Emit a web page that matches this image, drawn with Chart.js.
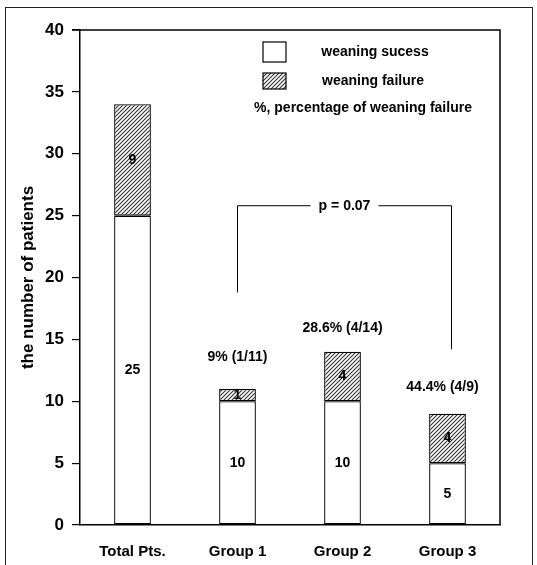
<!DOCTYPE html>
<html>
<head>
    <title>Weaning outcome</title>
    <script src="https://cdn.jsdelivr.net/npm/chart.js"></script>
    <style>
body {
    margin: 0;
    background: #fff;
}

.wrap {
    position: relative;
    width: 537px;
    height: 565px;
    overflow: hidden;
}

.frame {
    position: absolute;
    left: 5px;
    top: 7px;
    width: 526px;
    height: 600px;
    border: 1.5px solid #222;
}

canvas {
    position: absolute;
    left: 0;
    top: 0;
}
    </style>
</head>
<body>
  <div class="wrap">
      <div class="frame"></div>
      <canvas id="myChart" width="537" height="565"></canvas>
  </div>
    <script>
        // Data
        const categories = ['Total Pts.', 'Group 1', 'Group 2', 'Group 3'];
        const successCounts = [25, 10, 10, 5];
        const failureCounts = [9, 1, 4, 4];
        const pctLabels = ['', '9% (1/11)', '28.6% (4/14)', '44.4% (4/9)'];
        const pctLabelY = [null, 13.6, 15.9, 11.1];
        const yTicks = [0, 5, 10, 15, 20, 25, 30, 35, 40];

        // p-value bracket between Group 1 and Group 3 (data units)
        const bracketText = 'p = 0.07';
        const bracketFrom = 1, bracketTo = 3;
        const bracketLeftY = 18.8, bracketTopY = 25.8, bracketRightY = 14.2;

        const FONT = '"Liberation Sans", Arial, sans-serif';

        // Hatch pattern for weaning failure
        function makeHatch() {
          const c = document.createElement('canvas');
          c.width = 4;
          c.height = 4;
          const g = c.getContext('2d');
          g.fillStyle = '#fff';
          g.fillRect(0, 0, 4, 4);
          g.strokeStyle = '#333';
          g.lineWidth = 1.1;
          g.beginPath();
          g.moveTo(0, 4); g.lineTo(4, 0);
          g.moveTo(-1, 1); g.lineTo(1, -1);
          g.moveTo(3, 5); g.lineTo(5, 3);
          g.stroke();
          return g.createPattern(c, 'repeat');
        }

        const ctx = document.getElementById('myChart').getContext('2d');
        const hatch = makeHatch();

        // Plot box, segment numbers, percentages, bracket and legend
        const extras = {
          id: 'extras',
          afterDatasetsDraw(chart) {
            const c = chart.ctx;
            const a = chart.chartArea;
            const x = chart.scales.x;
            const y = chart.scales.y;
            c.save();

            // top and right sides of the plot box
            c.strokeStyle = '#000';
            c.lineWidth = 1.5;
            c.beginPath();
            c.moveTo(a.left - 8, a.top);
            c.lineTo(a.right, a.top);
            c.lineTo(a.right, a.bottom);
            c.stroke();

            // numbers inside the segments
            c.fillStyle = '#000';
            c.font = 'bold 14px ' + FONT;
            c.textAlign = 'center';
            c.textBaseline = 'middle';
            chart.data.datasets.forEach((ds, di) => {
              chart.getDatasetMeta(di).data.forEach((bar, i) => {
                const mid = (bar.y + bar.base) / 2;
                c.fillText(String(ds.data[i]), bar.x, mid);
              });
            });

            // percentage of weaning failure
            pctLabels.forEach((t, i) => {
              if (!t) return;
              const off = i === 3 ? -5 : 0;
              c.fillText(t, x.getPixelForValue(i) + off, y.getPixelForValue(pctLabelY[i]));
            });

            // bracket with p value
            const bl = x.getPixelForValue(bracketFrom);
            const br = x.getPixelForValue(bracketTo) + 4;
            const bt = y.getPixelForValue(bracketTopY);
            const mx = (bl + br) / 2;
            const tw = c.measureText(bracketText).width;
            c.lineWidth = 1;
            c.beginPath();
            c.moveTo(bl, y.getPixelForValue(bracketLeftY));
            c.lineTo(bl, bt);
            c.lineTo(mx - tw / 2 - 8, bt);
            c.moveTo(mx + tw / 2 + 8, bt);
            c.lineTo(br, bt);
            c.lineTo(br, y.getPixelForValue(bracketRightY));
            c.stroke();
            c.fillText(bracketText, mx, bt);

            // legend
            const lx = a.left + 183;
            c.lineWidth = 1.2;
            c.fillStyle = '#fff';
            c.fillRect(lx, a.top + 12, 23, 20);
            c.strokeRect(lx, a.top + 12, 23, 20);
            c.fillStyle = hatch;
            c.fillRect(lx, a.top + 43, 23, 16);
            c.strokeRect(lx, a.top + 43, 23, 16);
            c.fillStyle = '#000';
            c.fillText('weaning sucess', a.left + 295, a.top + 22);
            c.fillText('weaning failure', a.left + 293, a.top + 51);
            c.fillText('%, percentage of weaning failure', a.left + 283, a.top + 78);
            c.restore();
          }
        };

        const chart = new Chart(ctx, {
          type: 'bar',
          data: {
            labels: categories,
            datasets: [
              {
                label: 'weaning sucess',
                data: successCounts,
                backgroundColor: '#fff',
                borderColor: '#000',
                borderWidth: 1.3,
                borderSkipped: false,
              },
              {
                label: 'weaning failure',
                data: failureCounts,
                backgroundColor: hatch,
                borderColor: '#000',
                borderWidth: 1.3,
                borderSkipped: false,
              },
            ],
          },
          options: {
            responsive: false,
            animation: false,
            events: [],
            layout: {
              padding: { left: 0, top: 30, right: 37, bottom: 0 },
            },
            datasets: {
              bar: { categoryPercentage: 1, barPercentage: 0.35 },
            },
            plugins: {
              legend: { display: false },
              tooltip: { enabled: false },
            },
            scales: {
              x: {
                stacked: true,
                grid: { display: false },
                border: { display: true, color: '#000', width: 1.5 },
                ticks: {
                  color: '#000',
                  font: { family: FONT, size: 15, weight: 'bold' },
                  padding: 10,
                },
                afterFit(scale) { scale.height = 40; },
              },
              y: {
                stacked: true,
                min: 0,
                max: 40,
                afterBuildTicks(scale) {
                  scale.ticks = yTicks.map(v => ({ value: v }));
                },
                grid: {
                  drawOnChartArea: false,
                  drawTicks: true,
                  tickLength: 8,
                  color: '#000',
                  lineWidth: 1.2,
                },
                border: { display: true, color: '#000', width: 1.5 },
                ticks: {
                  color: '#000',
                  font: { family: FONT, size: 17, weight: 'bold' },
                  padding: 8,
                },
                title: {
                  display: true,
                  text: 'the number of patients',
                  color: '#000',
                  font: { family: FONT, size: 17, weight: 'bold' },
                  padding: { top: 18, bottom: 0 },
                },
                afterFit(scale) { scale.width = 80; },
              },
            },
          },
          plugins: [extras],
        });
    </script>
</body>
</html>
